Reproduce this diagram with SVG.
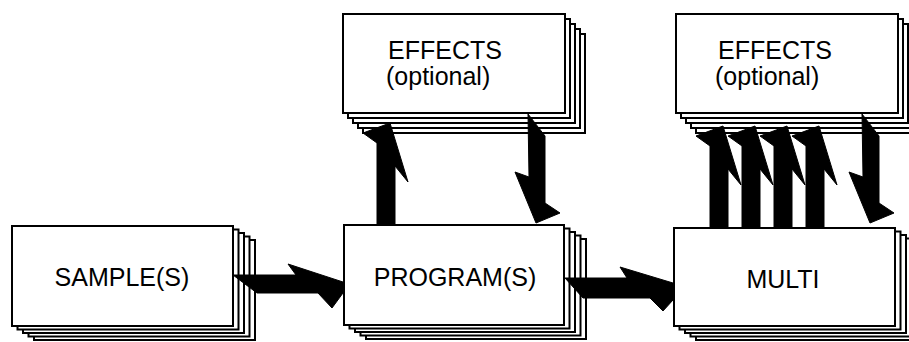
<svg xmlns="http://www.w3.org/2000/svg" width="909" height="342" viewBox="0 0 909 342">
<style>
.card{fill:#fff;stroke:#000;stroke-width:2}
.lbl{font-family:"Liberation Sans",Arial,sans-serif;font-size:25px;fill:#000}
.arr{fill:#000;stroke:#000;stroke-width:1;stroke-linejoin:miter}
</style>
<defs>
<polygon id="up" class="arr" points="0,102 0,20 -14,10 13,0 31,59 18,43 18,102"/>
<polygon id="down" class="arr" points="0,0 17,22 17,89 32,99 8,109 -13,58 1,63"/>
</defs>
<rect width="909" height="342" fill="#fff"/>
<g id="sample">
<rect class="card" x="34" y="240" width="221" height="100"/>
<rect class="card" x="28.5" y="236.5" width="221" height="100"/>
<rect class="card" x="23" y="233" width="221" height="100"/>
<rect class="card" x="17.5" y="229.5" width="221" height="100"/>
<rect class="card" x="12" y="226" width="221" height="100"/>
<text class="lbl" x="122" y="286" text-anchor="middle">SAMPLE(S)</text>
</g>
<g id="program">
<rect class="card" x="366" y="239" width="220" height="100"/>
<rect class="card" x="360.5" y="235.5" width="220" height="100"/>
<rect class="card" x="355" y="232" width="220" height="100"/>
<rect class="card" x="349.5" y="228.5" width="220" height="100"/>
<rect class="card" x="344" y="225" width="220" height="100"/>
<text class="lbl" x="455" y="286" text-anchor="middle">PROGRAM(S)</text>
</g>
<g id="multi">
<rect class="card" x="696" y="242" width="221" height="98"/>
<rect class="card" x="690.5" y="238.5" width="221" height="98"/>
<rect class="card" x="685" y="235" width="221" height="98"/>
<rect class="card" x="679.5" y="231.5" width="221" height="98"/>
<rect class="card" x="674" y="228" width="221" height="98"/>
<text class="lbl" x="783" y="288" text-anchor="middle">MULTI</text>
</g>
<g id="effects1">
<rect class="card" x="363" y="34" width="222" height="99"/>
<rect class="card" x="358" y="29" width="222" height="99"/>
<rect class="card" x="353" y="24" width="222" height="99"/>
<rect class="card" x="348" y="19" width="222" height="99"/>
<rect class="card" x="343" y="14" width="222" height="99"/>
<text class="lbl" x="388" y="59">EFFECTS</text>
<text class="lbl" x="386" y="85">(optional)</text>
</g>
<g id="effects2">
<rect class="card" x="696" y="34" width="222" height="99"/>
<rect class="card" x="691" y="29" width="222" height="99"/>
<rect class="card" x="686" y="24" width="222" height="99"/>
<rect class="card" x="681" y="19" width="222" height="99"/>
<rect class="card" x="676" y="14" width="222" height="99"/>
<text class="lbl" x="718" y="59">EFFECTS</text>
<text class="lbl" x="715" y="85">(optional)</text>
</g>
<g id="connectors">
<polygon class="arr" points="233,275 296,275 288,264 343,282 343,293 332,308 318,293 257,293"/>
<polygon class="arr" points="565,278 627,278 620,267 673,283 673,300 663,311 650,298 583,298"/>
<use href="#up" x="377" y="123"/>
<use href="#down" x="528" y="114"/>
<use href="#up" x="710" y="126"/>
<use href="#up" x="742" y="126"/>
<use href="#up" x="774" y="126"/>
<use href="#up" x="806" y="126"/>
<use href="#down" x="862" y="114"/>
</g>
</svg>
